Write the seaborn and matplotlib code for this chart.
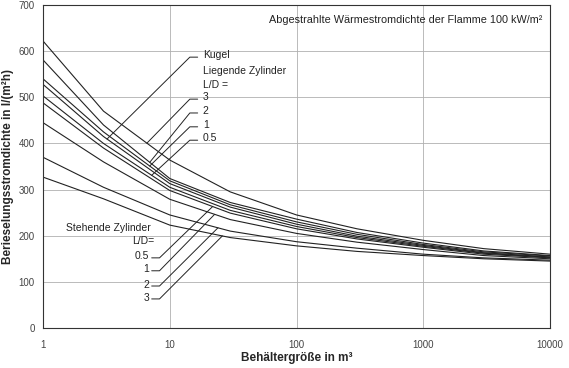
import numpy as np
import pandas as pd
import matplotlib
matplotlib.use("Agg")
import matplotlib.pyplot as plt
import seaborn as sns

# Behaeltergroesse in m3
volume = [1, 3, 10, 30, 100, 300, 1000, 3000, 10000]

# Berieselungsstromdichte in l/(m2h), curves from top to bottom at V = 1 m3
curve_names = ["c1", "c2", "c3", "c4", "c5", "c6", "c7", "c8", "c9"]
c1 = [622, 470, 364, 295, 245, 215, 190, 172, 160]
c2 = [581, 440, 324, 272, 236, 207, 184, 167, 157]
c3 = [540, 425, 319, 267, 230, 203, 181, 165, 156]
c4 = [528, 415, 313, 262, 225, 199, 179, 163, 154]
c5 = [503, 400, 305, 255, 220, 196, 177, 162, 153]
c6 = [488, 390, 298, 249, 215, 193, 175, 160, 152]
c7 = [445, 360, 279, 235, 205, 186, 170, 157, 150]
c8 = [370, 305, 245, 210, 187, 173, 160, 152, 147]
c9 = [327, 280, 223, 196, 178, 166, 157, 150, 145]
curves = [c1, c2, c3, c4, c5, c6, c7, c8, c9]

df = pd.concat(
    [pd.DataFrame({"V": volume, "q": vals, "curve": name})
     for name, vals in zip(curve_names, curves)],
    ignore_index=True,
)

sns.set_style("white")
plt.rcParams["font.family"] = ["Liberation Sans", "DejaVu Sans"]

fig = plt.figure(figsize=(5.69, 3.68), dpi=100)
ax = fig.add_axes([0.0756, 0.1087, 0.891, 0.8777])

sns.lineplot(data=df, x="V", y="q", units="curve", estimator=None,
             color="#222222", linewidth=0.8, ax=ax)

ax.set_xscale("log")
ax.set_xlim(1, 10000)
ax.set_ylim(0, 700)
ax.set_xticks([1, 10, 100, 1000, 10000])
ax.set_xticklabels(["1", "10", "100", "1000", "10000"])
ax.xaxis.set_minor_locator(matplotlib.ticker.NullLocator())
ax.set_yticks(range(0, 701, 100))
ax.grid(True, color="#b0b0b0", linewidth=0.6)
ax.tick_params(axis="both", labelsize=7, colors="#444444", length=2.5, width=0.6)
ax.tick_params(axis="x", length=0, pad=9)
for s in ax.spines.values():
    s.set_color("#333333")
    s.set_linewidth(0.8)

ax.set_xlabel("Behältergröße in m³", fontsize=8.5, fontweight="bold", labelpad=1)
ax.set_ylabel("Berieselungsstromdichte in l/(m²h)", fontsize=8.5, fontweight="bold", labelpad=3)

ax.text(0.985, 0.955, "Abgestrahlte Wärmestromdichte der Flamme 100 kW/m²",
        transform=ax.transAxes, ha="right", va="center", fontsize=7.8, color="#222222")


def on_curve(vals, x):
    return np.interp(np.log10(x), np.log10(volume), vals)


lw = 0.7
col = "#222222"
fs = 7.5

# Liegende Zylinder + Kugel (leader goes up-right to label)
upper = [("Kugel", c4, 3.2, 587), ("3", c1, 6.6, 496), ("2", c2, 6.95, 466),
         ("1", c3, 6.95, 436), ("0.5", c5, 7.2, 407)]
for lab, vals, xs, yl in upper:
    ax.plot([xs, 14.4, 16.6], [on_curve(vals, xs), yl, yl], color=col, lw=lw)
    ax.text(18.2, yl + 4, lab, fontsize=fs, color=col, va="center", ha="left")
ax.text(18.2, 557, "Liegende Zylinder", fontsize=fs, color=col, va="center")
ax.text(18.2, 527, "L/D =", fontsize=fs, color=col, va="center")

# Stehende Zylinder (leader goes from label up-right to curve)
lower = [("0.5", c6, 21.8, 152), ("1", c7, 22.6, 124), ("2", c8, 24, 91),
         ("3", c9, 26, 63)]
for lab, vals, xs, yl in lower:
    ax.plot([7.2, 8.3, xs], [yl, yl, on_curve(vals, xs)], color=col, lw=lw)
    ax.text(6.9, yl + 3, lab, fontsize=fs, color=col, va="center", ha="right")
ax.text(7.1, 217, "Stehende Zylinder", fontsize=fs, color=col, va="center", ha="right")
ax.text(7.5, 189, "L/D=", fontsize=fs, color=col, va="center", ha="right")

fig.savefig("out.png", dpi=100)
